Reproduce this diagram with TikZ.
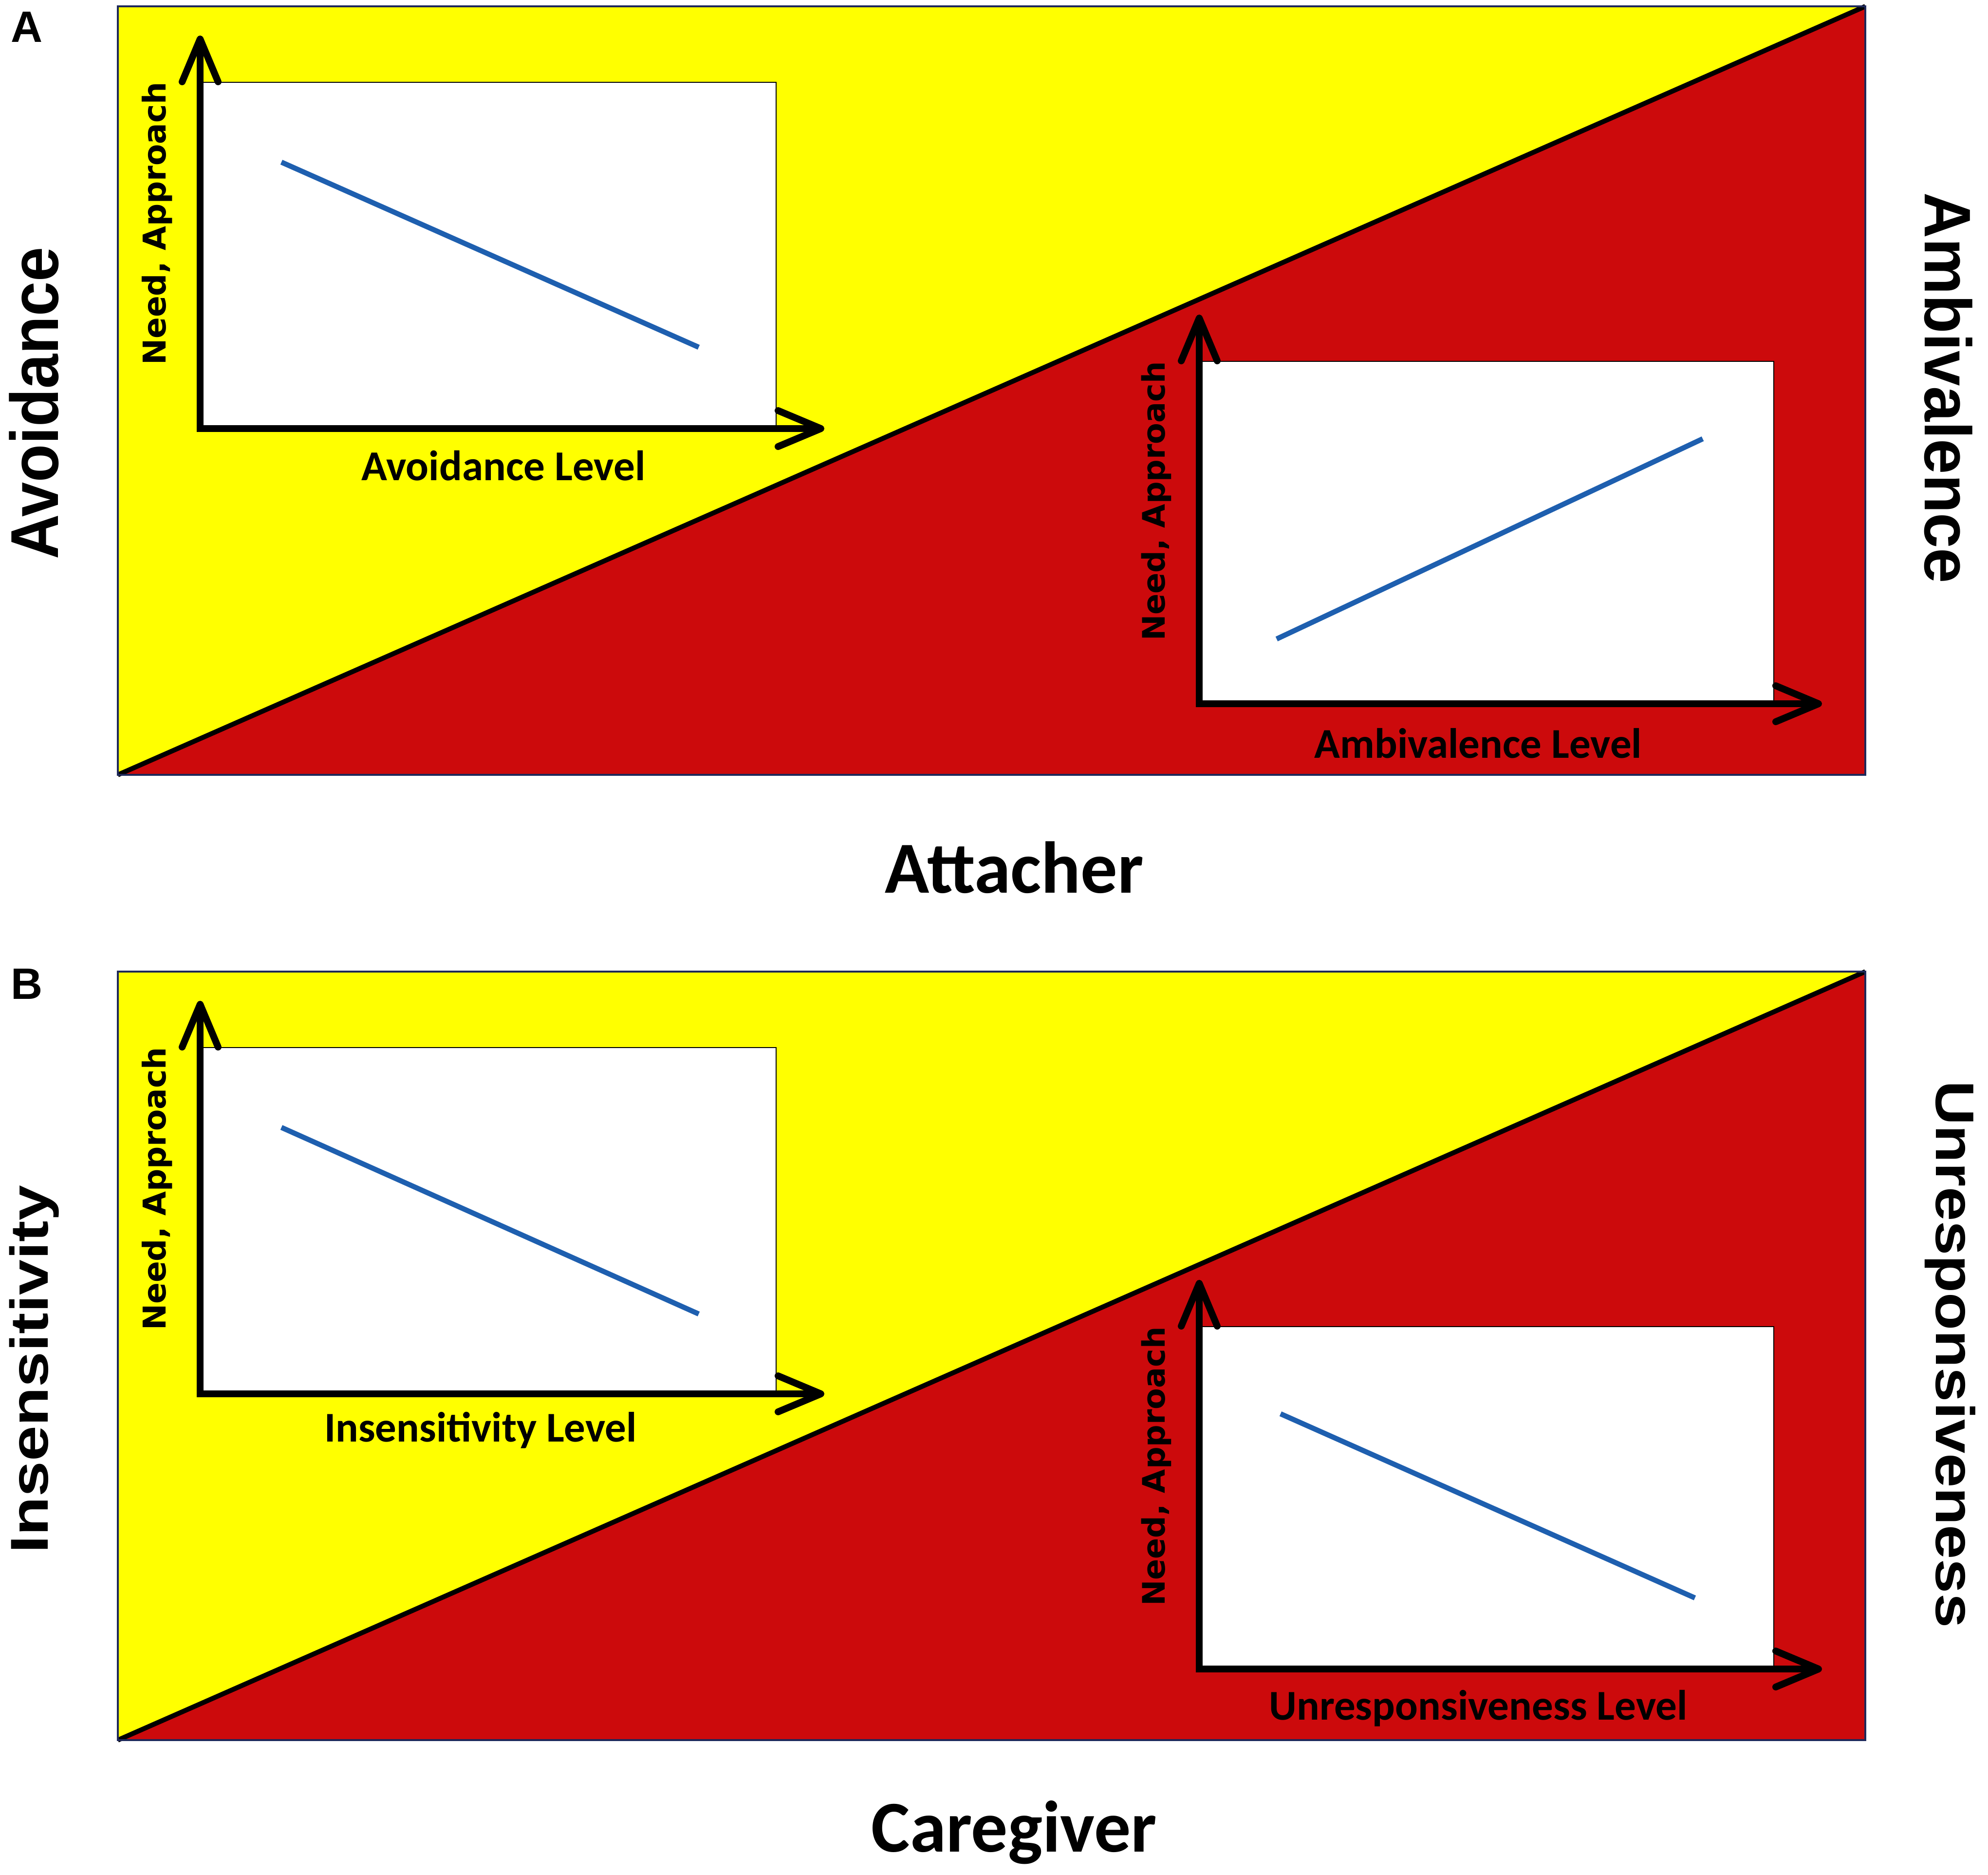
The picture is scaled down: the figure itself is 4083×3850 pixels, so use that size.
\documentclass[tikz,border=0pt]{standalone}
\usepackage{fontspec}
\setmainfont{Liberation Sans}
\newfontfamily\calib{Carlito}
\newfontfamily\arialf{Liberation Sans}
\newfontfamily\verd{DejaVu Sans}
\usetikzlibrary{arrows.meta}
\definecolor{ylw}{RGB}{255,255,0}
\definecolor{rd}{RGB}{204,10,12}
\definecolor{navy}{RGB}{30,40,90}
\definecolor{plotblue}{RGB}{30,95,175}
\newcommand{\fitw}[2]{\resizebox{#1mm}{!}{#2}}
\newcommand{\fitwh}[3]{\resizebox*{#1mm}{#2mm}{#3}}
\tikzset{
  panelbox/.style={draw=navy, line width=1.1pt},
  diag/.style={draw=black, line width=2.8pt},
  plotbox/.style={fill=white, draw=black, line width=0.5pt},
  plotline/.style={draw=plotblue, line width=3pt},
  axis/.style={draw=black, line width=4pt, line join=miter,
    {Straight Barb[length=25pt,width=21pt,round]}-{Straight Barb[length=25pt,width=21pt,round]}},
  lbl/.style={inner sep=0pt, outer sep=0pt, anchor=center}
}
\begin{document}
\begin{tikzpicture}[x=0.01cm, y=-0.01cm]
\useasboundingbox (0,0) rectangle (4083,3850);
\fill[white] (0,0) rectangle (4083,3850);

% ---------------- Panel A ----------------
\fill[ylw] (242,13) -- (3831,13) -- (242,1591) -- cycle;
\fill[rd] (3831,13) -- (3831,1591) -- (242,1591) -- cycle;
\coordinate (aBL) at (242,1591);
\coordinate (aTR) at (3831,13);
\draw[diag] (aBL) -- (aTR);
\draw[panelbox] (242,13) rectangle (3831,1591);

% plot 1
\draw[plotbox] (417,169) rectangle (1594,880);
\coordinate (a1s) at (578,333);
\coordinate (a1e) at (1435,713);
\draw[plotline] (a1s) -- (a1e);
\coordinate (a1y) at (411,73);
\coordinate (a1o) at (411,880);
\coordinate (a1x) at (1693,880);
\draw[axis] (a1y) -- (a1o) -- (a1x);
\node[lbl, rotate=90] (a1yl) at (323,459) {\fitw{58.1}{\verd\bfseries Need, Approach}};
\node[lbl] (a1xl) at (1034,956) {\fitw{58.3}{\calib\bfseries Avoidance Level}};

% plot 2
\draw[plotbox] (2469,742) rectangle (3643,1440);
\coordinate (a2s) at (2622,1312);
\coordinate (a2e) at (3497,901);
\draw[plotline] (a2s) -- (a2e);
\coordinate (a2y) at (2463,646);
\coordinate (a2o) at (2463,1445);
\coordinate (a2x) at (3742,1445);
\draw[axis] (a2y) -- (a2o) -- (a2x);
\node[lbl, rotate=90] (a2yl) at (2375,1029) {\fitw{57.3}{\verd\bfseries Need, Approach}};
\node[lbl] (a2xl) at (3036,1526) {\fitw{67.2}{\calib\bfseries Ambivalence Level}};

% side labels
\node[lbl] (labA) at (55,55) {\resizebox{!}{6.2mm}{\arialf\bfseries A}};
\node[lbl, rotate=90] (avoid) at (70,828) {\fitwh{64.1}{10.2}{\arialf\bfseries Avoidance}};
\node[lbl, rotate=-90] (ambiv) at (4002,797) {\fitwh{80.2}{9.9}{\arialf\bfseries Ambivalence}};
\node[lbl] (attacher) at (2083,1781) {\fitw{53.1}{\calib\bfseries Attacher}};

% ---------------- Panel B ----------------
\begin{scope}[shift={(0,1982)}]
\fill[ylw] (242,13) -- (3831,13) -- (242,1591) -- cycle;
\fill[rd] (3831,13) -- (3831,1591) -- (242,1591) -- cycle;
\coordinate (bBL) at (242,1591);
\coordinate (bTR) at (3831,13);
\draw[diag] (bBL) -- (bTR);
\draw[panelbox] (242,13) rectangle (3831,1591);

% plot 1
\draw[plotbox] (417,169) rectangle (1594,880);
\coordinate (b1s) at (578,333);
\coordinate (b1e) at (1435,716);
\draw[plotline] (b1s) -- (b1e);
\coordinate (b1y) at (411,73);
\coordinate (b1o) at (411,880);
\coordinate (b1x) at (1693,880);
\draw[axis] (b1y) -- (b1o) -- (b1x);
\node[lbl, rotate=90] (b1yl) at (323,459) {\fitw{58.1}{\verd\bfseries Need, Approach}};
\node[lbl] (b1xl) at (987,955) {\fitw{64.1}{\calib\bfseries Insensitivity Level}};

% plot 2
\draw[plotbox] (2469,742) rectangle (3643,1440);
\coordinate (b2s) at (2630,921);
\coordinate (b2e) at (3481,1299);
\draw[plotline] (b2s) -- (b2e);
\coordinate (b2y) at (2463,646);
\coordinate (b2o) at (2463,1445);
\coordinate (b2x) at (3742,1445);
\draw[axis] (b2y) -- (b2o) -- (b2x);
\node[lbl, rotate=90] (b2yl) at (2375,1029) {\fitw{57.3}{\verd\bfseries Need, Approach}};
\node[lbl] (b2xl) at (3036,1526) {\fitw{85.9}{\calib\bfseries Unresponsiveness Level}};

% side labels
\node[lbl] (labB) at (55,38) {\resizebox{!}{6.2mm}{\arialf\bfseries B}};
\node[lbl, rotate=90] (insens) at (70,830) {\fitwh{75.5}{10.2}{\arialf\bfseries Insensitivity}};
\node[lbl, rotate=-90] (unresp) at (4005,799) {\fitwh{112.2}{10.4}{\arialf\bfseries Unresponsiveness}};
\node[lbl] (caregiver) at (2083,1781) {\fitw{58.6}{\calib\bfseries Caregiver}};
\end{scope}
\end{tikzpicture}
\end{document}
